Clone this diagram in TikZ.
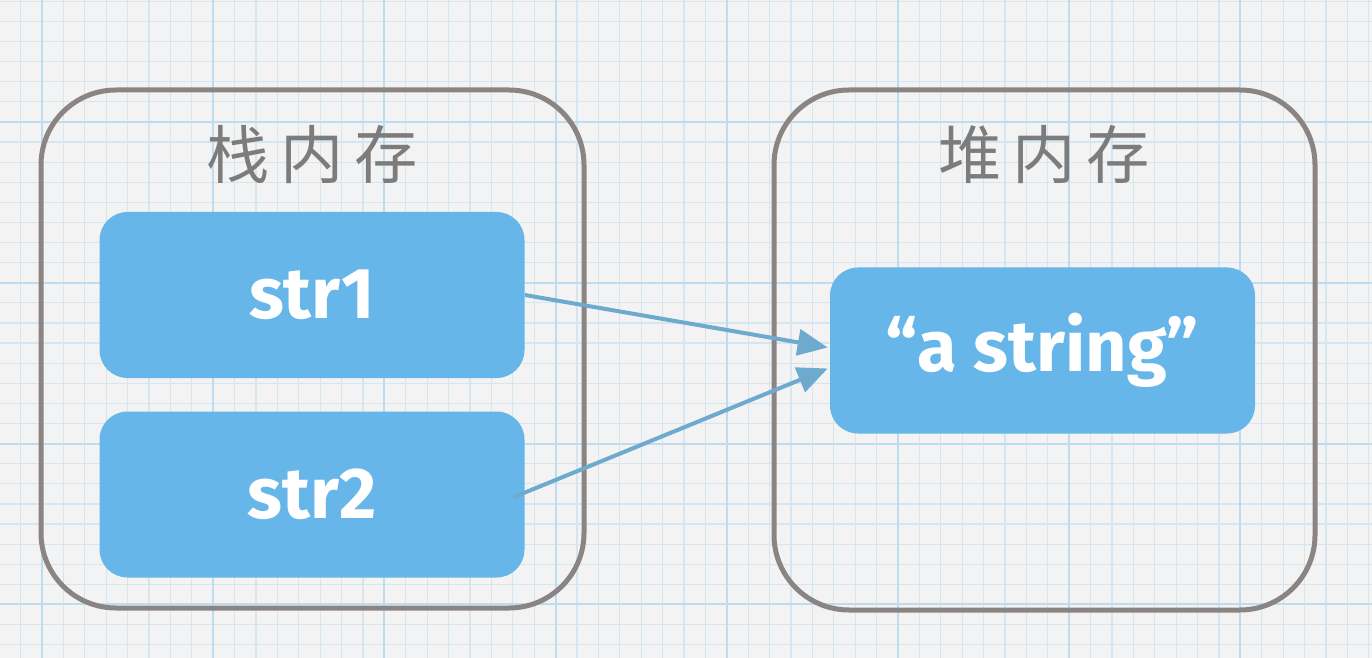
\documentclass[tikz,border=0pt]{standalone}
\usepackage{fontspec}
\usetikzlibrary{calc}
\usetikzlibrary{arrows,arrows.meta}
\usepackage{xcolor}
\newfontfamily\cjk{Noto Sans CJK SC}
\newfontfamily\hand{Fira Sans}
\definecolor{paper}{HTML}{F3F3F3}
\definecolor{gridminor}{HTML}{D5E6F1}
\definecolor{gridmajor}{HTML}{BFDCEF}
\definecolor{frame}{HTML}{8A8583}
\definecolor{cell}{HTML}{66B6EA}
\definecolor{ptr}{HTML}{6EA9CE}
\definecolor{title}{HTML}{7C7C7C}
\newcommand\unitpx{0.02cm}

\begin{document}
\begin{tikzpicture}[x=0.02cm,y=-0.02cm,
  frame/.style={draw=frame, line width=5*\unitpx, rounded corners=75*\unitpx},
  cell/.style={fill=cell, rounded corners=28*\unitpx, minimum width=425*\unitpx,
    minimum height=166*\unitpx, text=white, font=\hand\bfseries\fontsize{41}{48}\selectfont},
  title/.style={text=title, font=\cjk\fontsize{36}{42}\selectfont},
  ptr/.style={draw=ptr, line width=4*\unitpx, ->, >={Triangle[length=0.6cm, width=0.52cm]}}]
\fill[paper] (0,0) rectangle (1372,658);
\useasboundingbox (0,0) rectangle (1372,658);
% grid paper
\foreach \k in {-1,...,62}
 \draw[gridminor, line width=1.2*\unitpx] ({42+21.4*\k},0) -- ++(0,658);
\foreach \k in {-6,...,26}
 \draw[gridminor, line width=1.2*\unitpx] (0,{122+20.1*\k}) -- ++(1372,0);
\foreach \k in {0,...,7}
 \draw[gridmajor, line width=2*\unitpx] ({42+171.2*\k},0) -- ++(0,658);
\foreach \k in {0,...,3}
 \draw[gridmajor, line width=2*\unitpx] (0,{122+160.8*\k}) -- ++(1372,0);
% stack and heap
\draw[frame] (41,90) rectangle (584,608);
\draw[frame] (774,90) rectangle (1315,610);
\node[title] (stacktitle) at (312,155) {栈\hspace{6pt}内\hspace{6pt}存};
\node[title] (heaptitle) at (1044,155) {堆\hspace{6pt}内\hspace{6pt}存};
\node[cell] (s1) at (312,295) {str1};
\node[cell] (s2) at (312,494.5) {str2};
\node[cell] (hp) at (1042.5,350.5) {“a string”};
% references
\coordinate (in1) at ($(hp.west)+(-2,-3)$);
\coordinate (in2) at ($(hp.west)+(-2,18)$);
\coordinate (out2) at ($(s2.east)+(-12,3)$);
\draw[ptr] (s1.east) -- (in1);
\draw[ptr] (out2) -- (in2);
\end{tikzpicture}
\end{document}
